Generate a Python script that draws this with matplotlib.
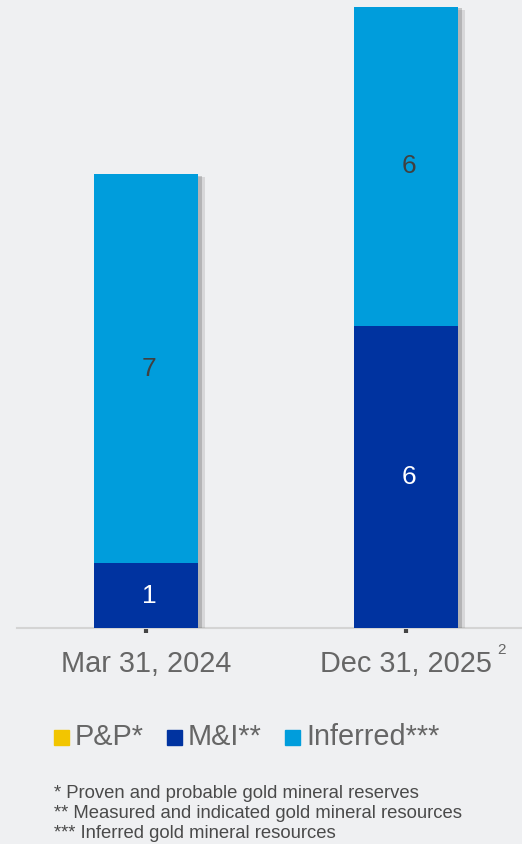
import matplotlib
matplotlib.use("Agg")
import matplotlib.pyplot as plt
import matplotlib.patheffects as pe
from matplotlib.patches import Rectangle

plt.rcParams["font.family"] = ["Liberation Sans", "DejaVu Sans"]

# data (Moz gold)
categories = ["Mar 31, 2024", "Dec 31, 2025"]
mi_values = [1.2, 5.6]
inferred_values = [7.2, 5.9]
legend_labels = ["P&P*", "M&I**", "Inferred***"]
footnotes = [
    "* Proven and probable gold mineral reserves",
    "** Measured and indicated gold mineral resources",
    "*** Inferred gold mineral resources",
]

BG = "#eff0f2"
PP_COLOR = "#f2c500"
MI_COLOR = "#0033a0"
INF_COLOR = "#009ddc"
TEXT = "#666666"

fig = plt.figure(figsize=(5.22, 8.44), dpi=100, facecolor=BG)
ax = fig.add_axes([17 / 522, 1 - 628 / 844, 505 / 522, 628 / 844])
ax.set_facecolor(BG)

x = list(range(len(categories)))
# soft-ish shadow: two offset layers
shadow = [
    pe.SimplePatchShadow(offset=(5, -2), shadow_rgbFace="#777777", alpha=0.2),
    pe.SimplePatchShadow(offset=(3, -1), shadow_rgbFace="#666666", alpha=0.3),
    pe.Normal(),
]

b1 = ax.bar(x, mi_values, width=0.4, color=MI_COLOR, zorder=3)
b2 = ax.bar(x, inferred_values, bottom=mi_values, width=0.4, color=INF_COLOR, zorder=2)
for bars in (b1, b2):
    for p in bars:
        p.set_path_effects(shadow)

for i in x:
    ax.text(i + 0.012, mi_values[i] / 2, f"{round(mi_values[i])}", ha="center", va="center",
            color="white", fontsize=19, zorder=5)
    ax.text(i + 0.012, mi_values[i] + inferred_values[i] / 2, f"{round(inferred_values[i])}",
            ha="center", va="center", color="#404040", fontsize=19, zorder=5)

ax.set_xlim(-129 / 260, 1 + 116 / 260)
ax.set_ylim(0, 628 / 54)
for s in ("top", "right", "left"):
    ax.spines[s].set_visible(False)
ax.spines["bottom"].set_color("#d4d4d4")
ax.spines["bottom"].set_linewidth(1.5)
ax.set_yticks([])
ax.set_xticks(x)
ax.set_xticklabels(categories, fontsize=20.8, color=TEXT)
ax.tick_params(axis="x", length=3.5, width=3, color="#444444", pad=12)

fig.text(497 / 522, 1 - 650 / 844, "2", fontsize=11, color=TEXT, ha="left", va="center")

# legend built by hand to match spacing
leg_y = 1 - 737 / 844
for lx, col, lab in zip([54, 167, 285], [PP_COLOR, MI_COLOR, INF_COLOR], legend_labels):
    fig.patches.append(Rectangle((lx / 522, leg_y - 7.5 / 844), 15 / 522, 15 / 844,
                                 transform=fig.transFigure, color=col))
    fig.text((lx + 21) / 522, leg_y, lab, fontsize=20.8, color=TEXT, ha="left", va="center")

for k, line in enumerate(footnotes):
    fig.text(54 / 522, 1 - (793 + 20 * k) / 844, line, fontsize=13.3, color="#4a4a4a",
             ha="left", va="center")

fig.savefig("out.png", dpi=100, facecolor=BG)
